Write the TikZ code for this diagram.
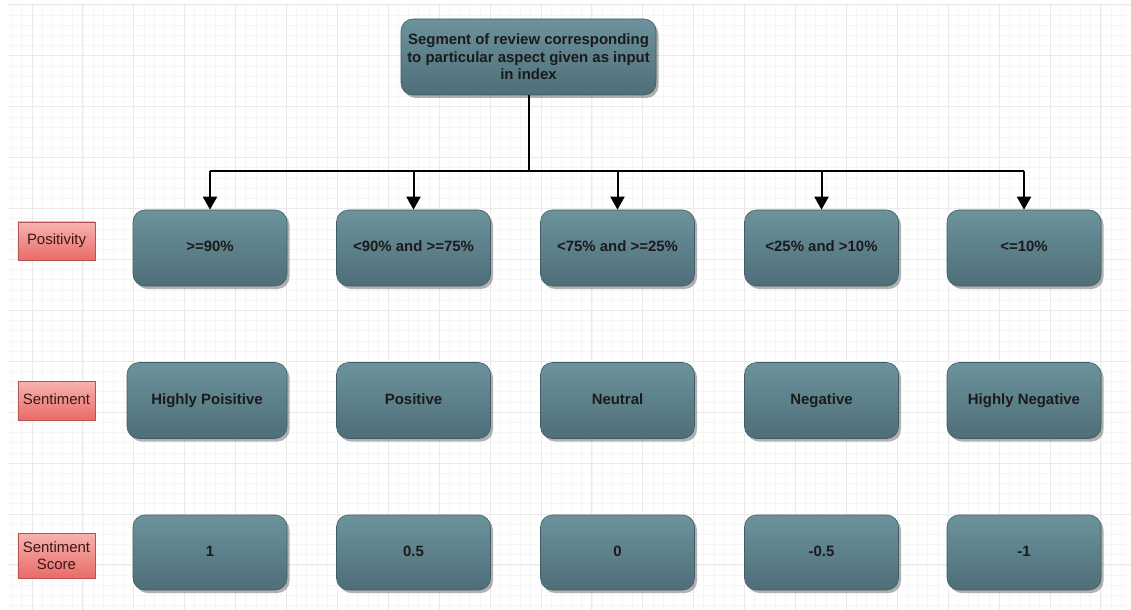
\documentclass[tikz,border=0pt]{standalone}
\usepackage{fontspec}
\setmainfont{Liberation Sans}
\usetikzlibrary{arrows.meta,shadows}
\definecolor{boxtop}{HTML}{6C939C}
\definecolor{boxbot}{HTML}{4E6E78}
\definecolor{boxline}{HTML}{3F5C66}
\definecolor{textdark}{HTML}{1A1A1A}
\definecolor{lbltop}{HTML}{F7B3B0}
\definecolor{lblbot}{HTML}{E96B67}
\definecolor{lblline}{HTML}{B85450}
\definecolor{lbltext}{HTML}{3A1818}
\definecolor{gridminor}{HTML}{F6F6F6}
\definecolor{gridmajor}{HTML}{EAEAEA}
\tikzset{
  stagebox/.style={rounded corners=12bp, draw=boxline, line width=0.6bp,
    top color=boxtop, bottom color=boxbot,
    drop shadow={shadow xshift=2.5bp, shadow yshift=-3bp, opacity=0.3, fill=black},
    font=\fontsize{15}{17.5}\selectfont\bfseries, text=textdark,
    minimum height=76bp, minimum width=154bp, align=center, inner sep=0pt},
  onebox/.style={stagebox, text height=11bp, text depth=3bp},
  rowlabel/.style={draw=lblline, line width=0.6bp, top color=lbltop, bottom color=lblbot,
    minimum width=77bp, font=\fontsize{15}{17}\selectfont, text=lbltext,
    align=center, inner sep=0pt},
  link/.style={line width=2bp, black},
  arr/.style={link, -{Triangle[width=14bp,length=13bp]}},
  minorline/.style={gridminor, line width=0.8bp},
  majorline/.style={gridmajor, line width=1bp}
}
\begin{document}
\begin{tikzpicture}[x=1bp,y=-1bp]
\useasboundingbox (0,0) rectangle (1131,610);
\fill[white] (0,0) rectangle (1131,610);
% grid
\foreach \i in {-2,...,107} {
  \draw[minorline] ({32+\i*10.18},3) -- ({32+\i*10.18},610);
}
\foreach \i in {0,...,59} {
  \draw[minorline] (8,{5+\i*10.18}) -- (1131,{5+\i*10.18});
}
\foreach \i in {0,...,21} {
  \draw[majorline] ({32+\i*50.9},3) -- ({32+\i*50.9},610);
}
\foreach \i in {0,...,11} {
  \draw[majorline] (8,{5+\i*50.9}) -- (1131,{5+\i*50.9});
}
% top node
\node[stagebox, minimum width=255bp] (top) at (528.5,57)
  {Segment of review corresponding\\to particular aspect given as input\\in index};
% row 1
\node[onebox] (p1) at (210,248) {>=90\%};
\node[onebox] (p2) at (413.5,248) {<90\% and >=75\%};
\node[onebox] (p3) at (617.5,248) {<75\% and >=25\%};
\node[onebox] (p4) at (821.5,248) {<25\% and >10\%};
\node[onebox] (p5) at (1024,248) {<=10\%};
% row 2
\node[onebox, minimum width=160bp] (s1) at (207,400.5) {Highly Poisitive};
\node[onebox] (s2) at (413.5,400.5) {Positive};
\node[onebox] (s3) at (617.5,400.5) {Neutral};
\node[onebox] (s4) at (821.5,400.5) {Negative};
\node[onebox] (s5) at (1024,400.5) {Highly Negative};
% row 3
\node[onebox, minimum height=75bp] (v1) at (210,552.5) {1};
\node[onebox, minimum height=75bp] (v2) at (413.5,552.5) {0.5};
\node[onebox, minimum height=75bp] (v3) at (617.5,552.5) {0};
\node[onebox, minimum height=75bp] (v4) at (821.5,552.5) {-0.5};
\node[onebox, minimum height=75bp] (v5) at (1024,552.5) {-1};
% labels
\node[rowlabel, minimum height=38bp, text height=11bp, text depth=3bp] (lp) at (56.5,241) {Positivity};
\node[rowlabel, minimum height=39bp, text height=11bp, text depth=3bp] (ls) at (56.5,400.5) {Sentiment};
\node[rowlabel, minimum height=45bp] (lv) at (56.5,555.5) {Sentiment\\Score};
% connectors
\coordinate (bus) at (527,171);
\draw[link] (top.south) -- (top.south |- bus);
\draw[link] (p1.north |- bus) -- (p5.north |- bus);
\foreach \n in {p1,p2,p3,p4,p5} {
  \draw[arr] (\n.north |- bus) -- (\n.north);
}
\end{tikzpicture}
\end{document}
